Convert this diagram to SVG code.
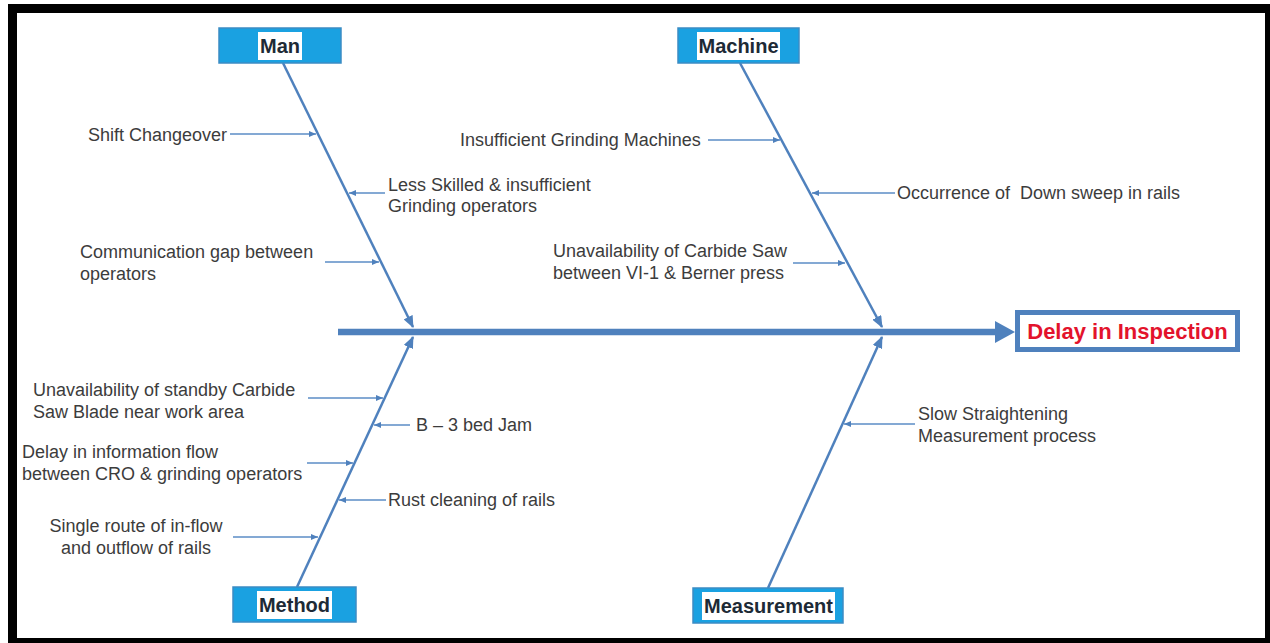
<svg xmlns="http://www.w3.org/2000/svg" width="1270" height="643" viewBox="0 0 1270 643">
<style>
.cat{fill:#1aa1e1;stroke:#3b8cc4;stroke-width:1.5}
.hl{fill:#ffffff}
.catt{font-family:"Liberation Sans",Arial,sans-serif;font-weight:bold;font-size:20px;fill:#1d2a36;text-anchor:middle}
.lbl{font-family:"Liberation Sans",Arial,sans-serif;font-size:18px;fill:#3c3c3c;white-space:pre}
.bone{stroke:#4f81bd;stroke-width:2.5;fill:none}
.br{stroke:#5b8cc6;stroke-width:1.3;fill:none}
.spine{stroke:#4f81bd;stroke-width:6.5;fill:none}
</style>
<defs>
<marker id="big" markerUnits="userSpaceOnUse" markerWidth="12" markerHeight="10" refX="11" refY="5" orient="auto">
<path d="M0,0 L12,5 L0,10 Z" fill="#4f81bd"/>
</marker>
<marker id="sm" markerUnits="userSpaceOnUse" markerWidth="7" markerHeight="6" refX="7" refY="3" orient="auto">
<path d="M0,0 L7,3 L0,6 Z" fill="#4f81bd"/>
</marker>
</defs>
<rect x="0" y="0" width="1270" height="643" fill="#ffffff"/>
<g id="frame" fill="#000000">
<rect x="8" y="4" width="1262" height="9"/>
<rect x="8" y="4" width="9" height="639"/>
<rect x="1265" y="4" width="5" height="639"/>
<rect x="8" y="638" width="1262" height="5"/>
</g>
<g id="connectors">
<line class="spine" x1="338" y1="332" x2="997" y2="332"/>
<polygon points="995,321 1015,332 995,343" fill="#4f81bd"/>
<line class="bone" x1="283" y1="63" x2="413" y2="327" marker-end="url(#big)"/>
<line class="bone" x1="740" y1="63" x2="882" y2="327" marker-end="url(#big)"/>
<line class="bone" x1="297" y1="587" x2="413" y2="337" marker-end="url(#big)"/>
<line class="bone" x1="768" y1="588" x2="882" y2="337" marker-end="url(#big)"/>
<line class="br" x1="230" y1="134" x2="316" y2="134" marker-end="url(#sm)"/>
<line class="br" x1="385" y1="193" x2="349" y2="193" marker-end="url(#sm)"/>
<line class="br" x1="325" y1="262" x2="379" y2="262" marker-end="url(#sm)"/>
<line class="br" x1="708" y1="140" x2="780" y2="140" marker-end="url(#sm)"/>
<line class="br" x1="895" y1="193" x2="812" y2="193" marker-end="url(#sm)"/>
<line class="br" x1="793" y1="263" x2="845" y2="263" marker-end="url(#sm)"/>
<line class="br" x1="308" y1="398" x2="383" y2="398" marker-end="url(#sm)"/>
<line class="br" x1="410" y1="425" x2="374" y2="425" marker-end="url(#sm)"/>
<line class="br" x1="307" y1="463" x2="353" y2="463" marker-end="url(#sm)"/>
<line class="br" x1="386" y1="500" x2="339" y2="500" marker-end="url(#sm)"/>
<line class="br" x1="233" y1="537" x2="318" y2="537" marker-end="url(#sm)"/>
<line class="br" x1="915" y1="424" x2="844" y2="424" marker-end="url(#sm)"/>
</g>
<g id="man">
<rect class="cat" x="219" y="28" width="122" height="35"/>
<rect class="hl" x="258" y="32" width="44" height="28"/>
<text class="catt" x="280" y="53">Man</text>
</g>
<g id="machine">
<rect class="cat" x="678" y="28" width="121" height="35"/>
<rect class="hl" x="697" y="32" width="83" height="28"/>
<text class="catt" x="738.5" y="53">Machine</text>
</g>
<g id="method">
<rect class="cat" x="233" y="587" width="123" height="35"/>
<rect class="hl" x="257" y="591" width="75" height="28"/>
<text class="catt" x="294.5" y="612">Method</text>
</g>
<g id="measurement">
<rect class="cat" x="693" y="588" width="150" height="35"/>
<rect class="hl" x="702" y="592" width="133" height="28"/>
<text class="catt" x="768.5" y="613">Measurement</text>
</g>
<g id="effect">
<rect x="1017.5" y="312.5" width="220" height="37" fill="#ffffff" stroke="#4f81bd" stroke-width="5"/>
<text x="1127.5" y="339" font-family="'Liberation Sans',Arial,sans-serif" font-weight="bold" font-size="22px" fill="#e3132c" text-anchor="middle">Delay in Inspection</text>
</g>
<g id="cause-shift"><text class="lbl" x="88" y="141">Shift Changeover</text></g>
<g id="cause-skilled"><text class="lbl" x="388" y="191">Less Skilled &amp; insufficient<tspan x="388" y="212">Grinding operators</tspan></text></g>
<g id="cause-comm"><text class="lbl" x="80" y="258">Communication gap between<tspan x="80" y="280">operators</tspan></text></g>
<g id="cause-grinding"><text class="lbl" x="460" y="146">Insufficient Grinding Machines</text></g>
<g id="cause-downsweep"><text class="lbl" x="897" y="199" xml:space="preserve">Occurrence of  Down sweep in rails</text></g>
<g id="cause-saw"><text class="lbl" x="553" y="257">Unavailability of Carbide Saw<tspan x="553" y="279">between VI-1 &amp; Berner press</tspan></text></g>
<g id="cause-blade"><text class="lbl" x="33" y="396">Unavailability of standby Carbide<tspan x="33" y="418">Saw Blade near work area</tspan></text></g>
<g id="cause-jam"><text class="lbl" x="416" y="431">B – 3 bed Jam</text></g>
<g id="cause-info"><text class="lbl" x="22" y="458">Delay in information flow<tspan x="22" y="480">between CRO &amp; grinding operators</tspan></text></g>
<g id="cause-rust"><text class="lbl" x="388" y="506">Rust cleaning of rails</text></g>
<g id="cause-route"><text class="lbl" x="136" y="532" text-anchor="middle">Single route of in-flow<tspan x="136" y="554">and outflow of rails</tspan></text></g>
<g id="cause-straight"><text class="lbl" x="918" y="420">Slow Straightening<tspan x="918" y="442">Measurement process</tspan></text></g>
</svg>
